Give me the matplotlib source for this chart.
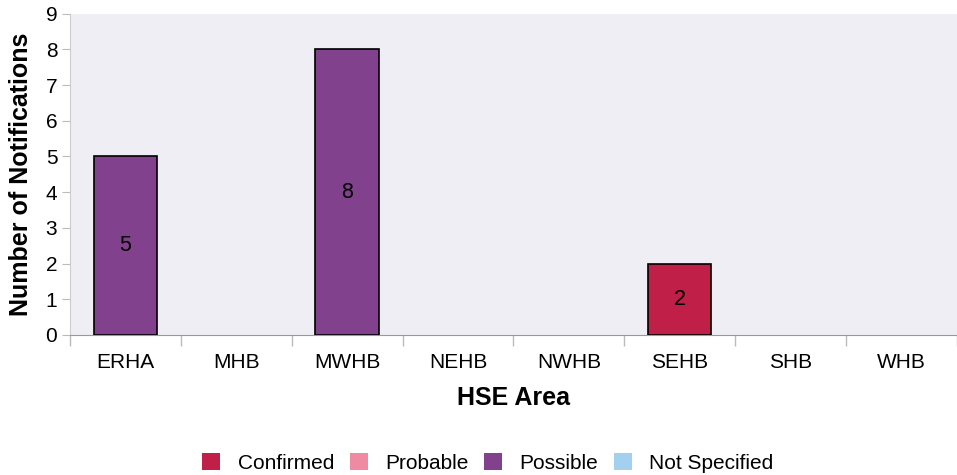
import matplotlib
matplotlib.use("Agg")
import matplotlib.pyplot as plt
import numpy as np

plt.rcParams['font.family'] = ['Liberation Sans', 'DejaVu Sans']

areas = ['ERHA', 'MHB', 'MWHB', 'NEHB', 'NWHB', 'SEHB', 'SHB', 'WHB']
series = ['Confirmed', 'Probable', 'Possible', 'Not Specified']
confirmed = [0, 0, 0, 0, 0, 2, 0, 0]
probable = [0, 0, 0, 0, 0, 0, 0, 0]
possible = [5, 0, 8, 0, 0, 0, 0, 0]
not_specified = [0, 0, 0, 0, 0, 0, 0, 0]
colors = ['#C01F48', '#EE8AA2', '#81418C', '#A2D0EE']

fig = plt.figure(figsize=(9.57, 4.75), dpi=100)
ax = fig.add_axes([0.073, 0.295, 0.927, 0.676])
ax.set_facecolor('#EEEEF4')

x = np.arange(len(areas))
bottom = np.zeros(len(areas))
for name, vals, col in zip(series, [confirmed, probable, possible, not_specified], colors):
    vals = np.array(vals, dtype=float)
    mask = vals > 0
    ax.bar(x[mask], vals[mask], 0.57, bottom=bottom[mask], color=col,
           edgecolor='black', linewidth=1.2, zorder=3)
    for xi, v, b in zip(x[mask], vals[mask], bottom[mask]):
        ax.text(xi, b + v / 2, str(int(v)), ha='center', va='center',
                fontsize=15.5, zorder=4)
    bottom += vals
    ax.bar([0], [0], color=col, label=name)

ax.set_xlim(-0.5, len(areas) - 0.5)
ax.set_ylim(0, 9)
ax.set_yticks(range(10))
ax.set_xticks(x)
ax.set_xticklabels(areas)
ax.set_xticks(np.arange(-0.5, len(areas)), minor=True)
ax.tick_params(axis='x', which='major', length=0, pad=13, labelsize=15)
ax.tick_params(axis='x', which='minor', length=8, color='#BBBBBB', width=1)
ax.tick_params(axis='y', length=6, color='#BBBBBB', labelsize=15, pad=3)
for s in ['top', 'right']:
    ax.spines[s].set_visible(False)
ax.spines['left'].set_color('#CCCCCC')
ax.spines['bottom'].set_color('#999999')

ax.set_xlabel('HSE Area', fontsize=18, fontweight='bold', labelpad=10)
ax.set_ylabel('Number of Notifications', fontsize=18, fontweight='bold', labelpad=9)

fig.legend(loc='lower center', bbox_to_anchor=(0.51, -0.035), ncol=4, frameon=False,
           fontsize=15, handlelength=0.85, handleheight=0.85, handletextpad=0.85,
           columnspacing=0.75)

fig.savefig('out.png', dpi=100)
